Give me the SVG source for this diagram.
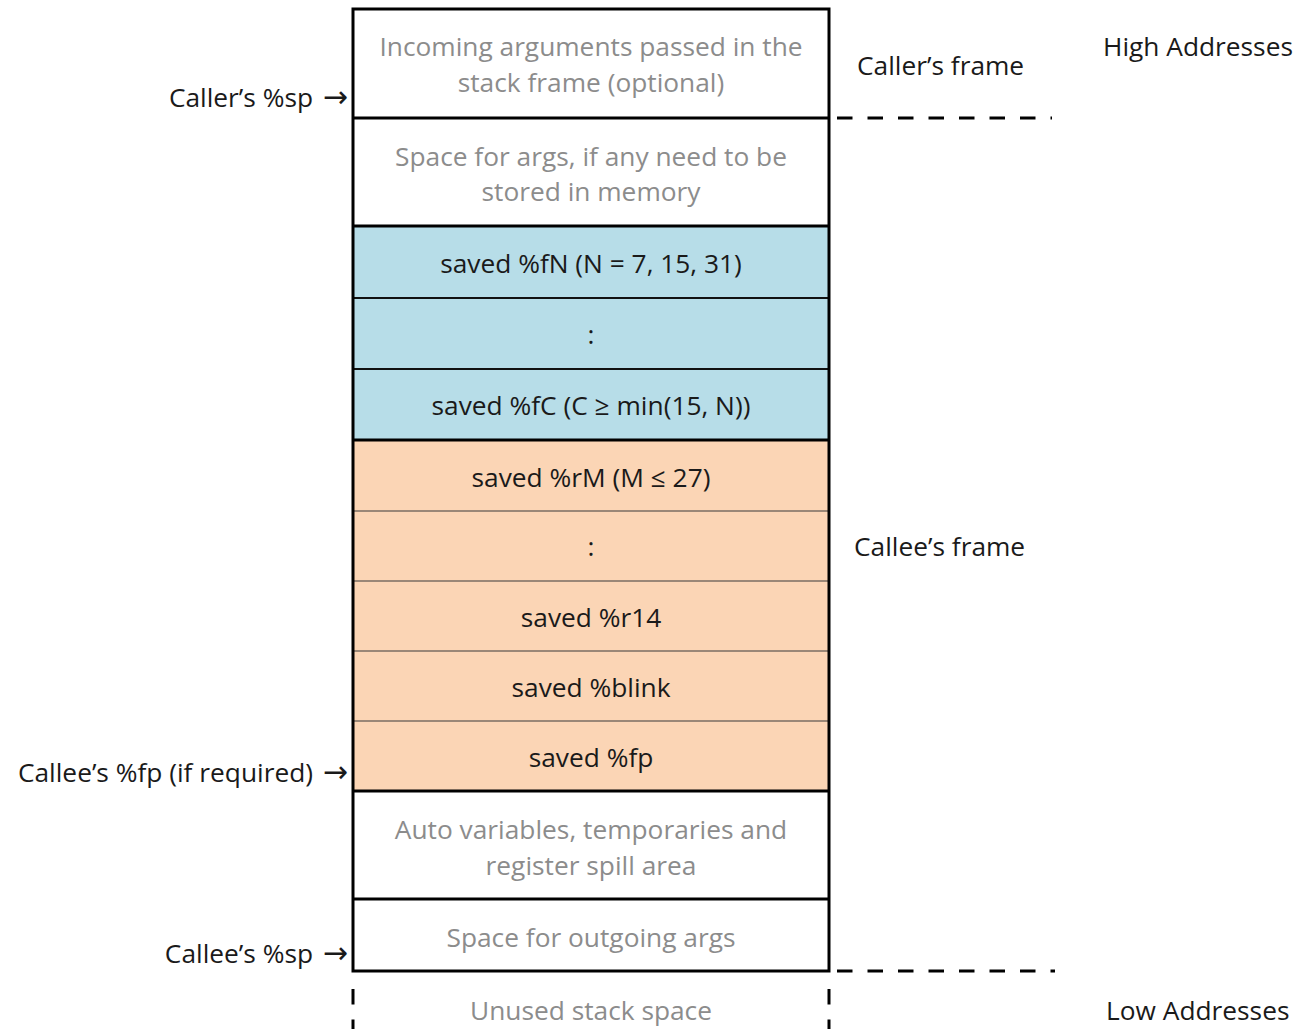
<svg xmlns="http://www.w3.org/2000/svg" width="1304" height="1029" viewBox="0 0 1304 1029">
<style>
text{font-family:"Open Sans","Noto Sans","DejaVu Sans",sans-serif;font-size:26.3px;}
.c{text-anchor:middle;}
.e{text-anchor:end;}
.g{fill:#8c8c8c;}
.d{fill:#1a1a1a;}
.ar{font-family:"DejaVu Sans",sans-serif;font-size:30px;}
.thick{stroke:#000;stroke-width:3;fill:none;}
.mid{stroke:#111;stroke-width:2.2;fill:none;}
.thin{stroke:#3a3a3a;stroke-width:1.2;fill:none;}
.dash{stroke:#000;stroke-width:3;stroke-dasharray:15.5 15;fill:none;}
</style>
<rect width="1304" height="1029" fill="#fff"/>
<g id="blue-area"><rect x="353" y="226" width="476" height="214" fill="#b7dde8"/></g>
<g id="orange-area"><rect x="353" y="440" width="476" height="351" fill="#fbd5b5"/></g>
<g id="connectors">
<line class="thin" x1="353" y1="511" x2="829" y2="511"/>
<line class="thin" x1="353" y1="581" x2="829" y2="581"/>
<line class="thin" x1="353" y1="651" x2="829" y2="651"/>
<line class="thin" x1="353" y1="721" x2="829" y2="721"/>
<line class="mid" x1="353" y1="298" x2="829" y2="298"/>
<line class="mid" x1="353" y1="369" x2="829" y2="369"/>
<line class="thick" x1="353" y1="118" x2="829" y2="118"/>
<line class="thick" x1="353" y1="226" x2="829" y2="226"/>
<line class="thick" x1="353" y1="440" x2="829" y2="440"/>
<line class="thick" x1="353" y1="791" x2="829" y2="791"/>
<line class="thick" x1="353" y1="899" x2="829" y2="899"/>
<rect class="thick" x="353" y="9" width="476" height="962"/>
<line class="dash" x1="837" y1="118" x2="1052" y2="118"/>
<line class="dash" x1="837" y1="971" x2="1055" y2="971"/>
<line class="dash" x1="353" y1="989" x2="353" y2="1029"/>
<line class="dash" x1="829" y1="989" x2="829" y2="1029"/>
</g>
<g id="incoming"><text class="c g" x="591" y="56">Incoming arguments passed in the</text><text class="c g" x="591" y="92">stack frame (optional)</text></g>
<g id="space-args"><text class="c g" x="591" y="166">Space for args, if any need to be</text><text class="c g" x="591" y="201">stored in memory</text></g>
<g id="saved-fN"><text class="c d" x="591" y="273">saved %fN (N = 7, 15, 31)</text></g>
<g id="dots-f"><text class="c d" x="591" y="344">:</text></g>
<g id="saved-fC"><text class="c d" x="591" y="415">saved %fC (C ≥ min(15, N))</text></g>
<g id="saved-rM"><text class="c d" x="591" y="487">saved %rM (M ≤ 27)</text></g>
<g id="dots-r"><text class="c d" x="591" y="556">:</text></g>
<g id="saved-r14"><text class="c d" x="591" y="627">saved %r14</text></g>
<g id="saved-blink"><text class="c d" x="591" y="697">saved %blink</text></g>
<g id="saved-fp"><text class="c d" x="591" y="767">saved %fp</text></g>
<g id="auto-vars"><text class="c g" x="591" y="839">Auto variables, temporaries and</text><text class="c g" x="591" y="875">register spill area</text></g>
<g id="outgoing"><text class="c g" x="591" y="947">Space for outgoing args</text></g>
<g id="unused"><text class="c g" x="591" y="1020">Unused stack space</text></g>
<g id="labels">
<text class="d" x="1103" y="56">High Addresses</text>
<text class="d" x="1106" y="1020">Low Addresses</text>
<text class="d" x="857" y="75">Caller’s frame</text>
<text class="d" x="854" y="556">Callee’s frame</text>
<text class="e d" x="348" y="107">Caller’s %sp <tspan class="ar" dx="3">→</tspan></text>
<text class="e d" x="348" y="782">Callee’s %fp (if required) <tspan class="ar" dx="3">→</tspan></text>
<text class="e d" x="348" y="963">Callee’s %sp <tspan class="ar" dx="3">→</tspan></text>
</g>
</svg>
